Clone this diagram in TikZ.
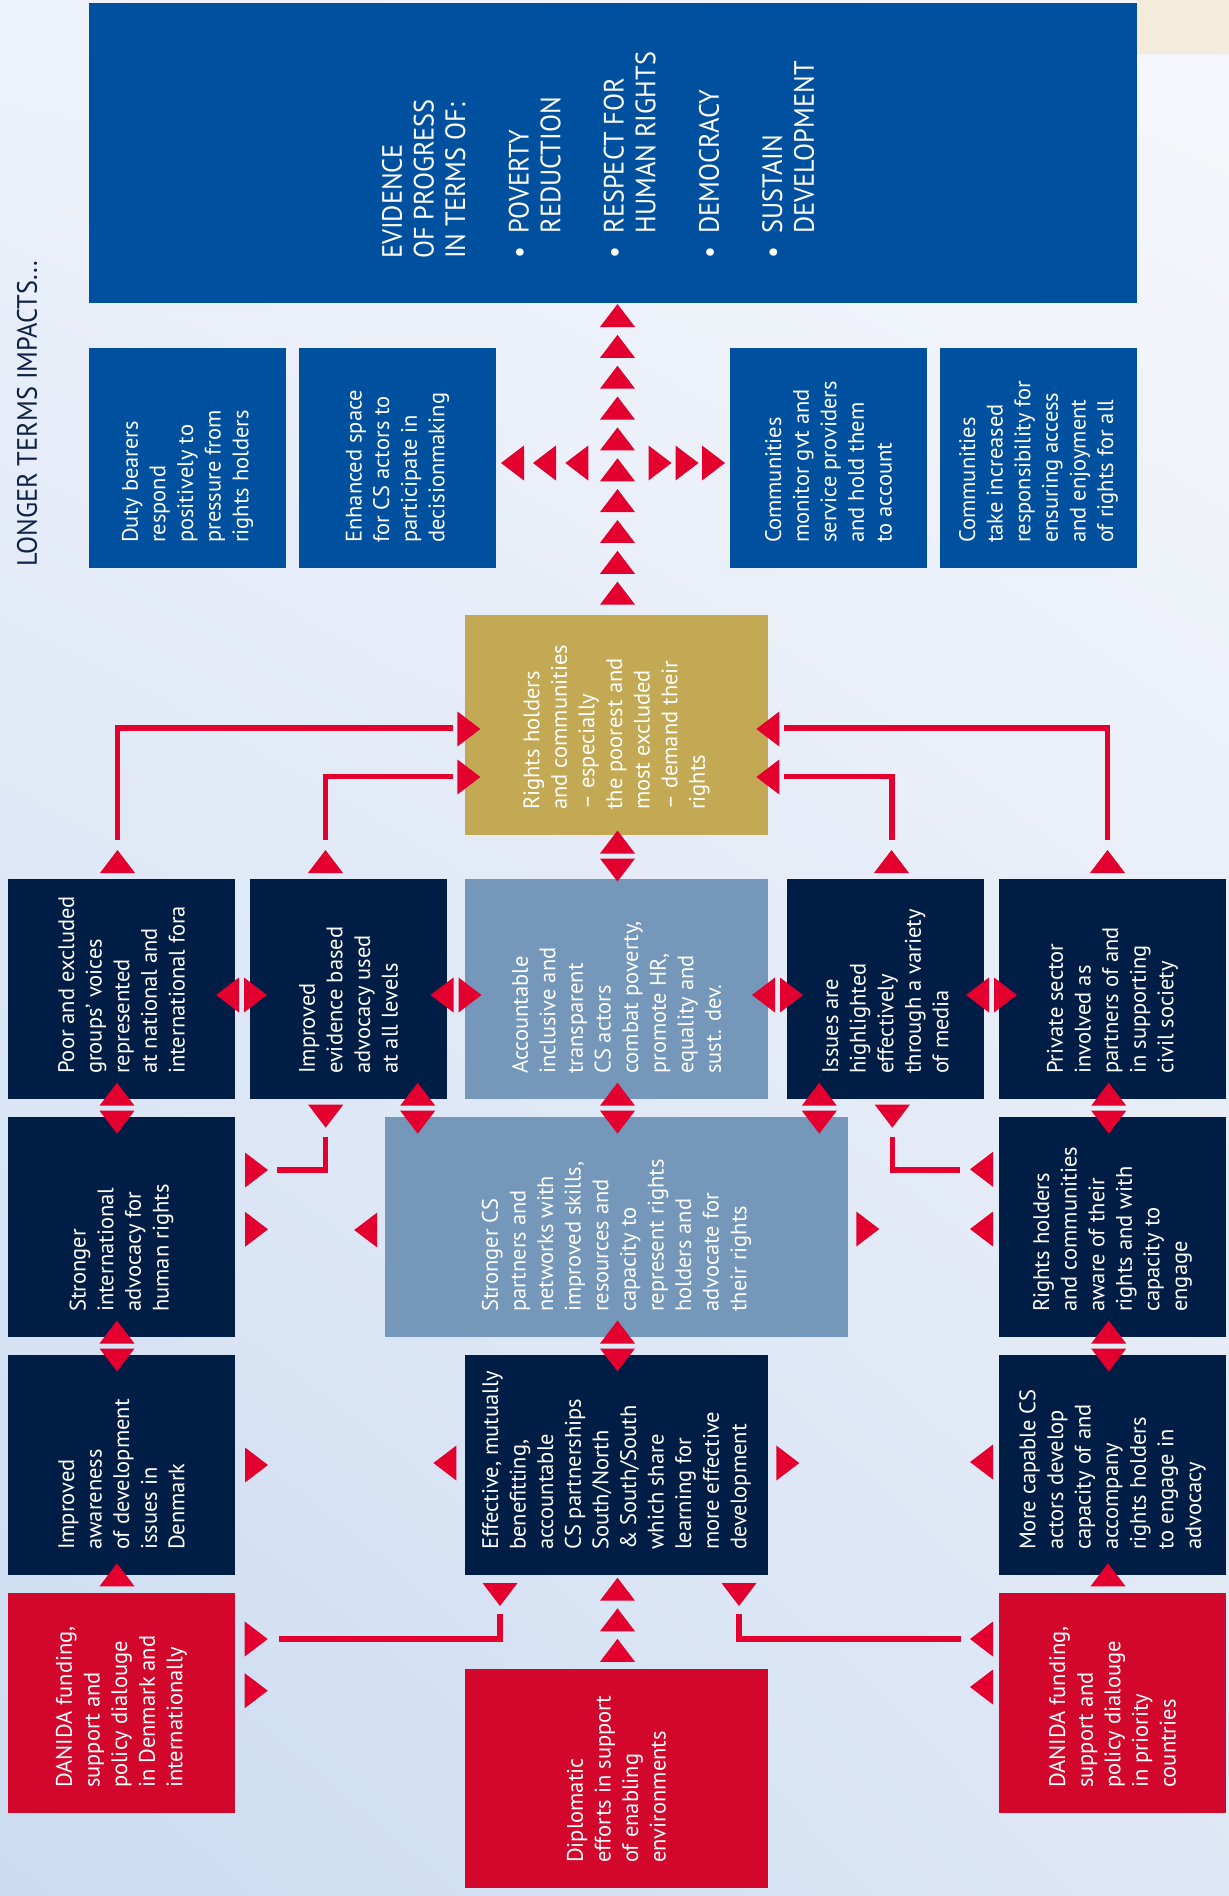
\documentclass[tikz,border=0pt]{standalone}
\usepackage{fontspec}
\usetikzlibrary{shadings}
\setmainfont{PT Sans}
\newfontfamily\capsfont[FakeStretch=0.94]{PT Sans}
\definecolor{tblue}{HTML}{0050A0}
\definecolor{navy}{HTML}{001E45}
\definecolor{steel}{HTML}{7597BA}
\definecolor{gold}{HTML}{C3A953}
\definecolor{rbox}{HTML}{D3072B}
\definecolor{rtri}{HTML}{E4002E}
\definecolor{beige}{HTML}{F3ECDB}
\definecolor{titlec}{HTML}{0E2146}
\definecolor{bgul}{HTML}{EEF2FA}
\definecolor{bgur}{HTML}{F6F7FB}
\definecolor{bgll}{HTML}{CBDBF1}
\definecolor{bglr}{HTML}{DEE7F5}
\newcommand\bx[7]{%
  \node[boxs, fill=#6, minimum width={(#4-#2)*1pt}, minimum height={(#5-#3)*1pt}] (#1) at ({(#2+#4)/2},{(#3+#5)/2}) {};
  \node[btext] (#1t) at ([yshift=25pt]#1.south) {#7};}
\newcommand\triU[2]{\fill[tri] (#1,#2) -- ++(-17.5,23) -- ++(35,0) -- cycle;}
\newcommand\triD[2]{\fill[tri] (#1,#2) -- ++(-17.5,-23) -- ++(35,0) -- cycle;}
\newcommand\triL[2]{\fill[tri] (#1,#2) -- ++(23,-17.5) -- ++(0,35) -- cycle;}
\newcommand\triR[2]{\fill[tri] (#1,#2) -- ++(-23,-17.5) -- ++(0,35) -- cycle;}
\newcommand\dblV[2]{\triU{#1}{#2-25.5}\triD{#1}{#2+25.5}}
\newcommand\dblH[2]{\triL{#1-25.5}{#2}\triR{#1+25.5}{#2}}
\newcommand\tbul{\makebox[25.3pt][l]{•}}
\newcommand\tind{\hspace*{25.3pt}}
\begin{document}
\begin{tikzpicture}[x=1pt,y=-1pt,
  boxs/.style={rectangle, draw=none, inner sep=0pt, outer sep=0pt},
  btext/.style={rotate=90, anchor=west, align=left, inner sep=0pt, text=white,
    font=\fontsize{22.5}{27.6}\selectfont},
  toptext/.style={rotate=90, anchor=north west, align=left, inner sep=0pt, text=white,
    font=\capsfont\fontsize{28}{31.7}\selectfont},
  titletext/.style={rotate=90, anchor=north west, inner sep=0pt, text=titlec,
    font=\capsfont\fontsize{28}{31.7}\selectfont},
  tri/.style={fill=rtri},
  conn/.style={draw=rtri, line width=5.5pt, line join=miter}]
\useasboundingbox (0,0) rectangle (1229,1896);
\shade[upper left=bgul, upper right=bgur, lower left=bgll, lower right=bglr]
  (0,0) rectangle (1229,1896);
\fill[beige] (1137,0) rectangle (1229,54);
% title
\node[titletext] (title) at (16.7,566.7) {LONGER TERMS IMPACTS...};
% top box
\node[boxs, fill=tblue, minimum width=1048pt, minimum height=300pt] (top) at (613,153) {};
\node[toptext] (topt) at (381.7,259) {EVIDENCE\\OF PROGRESS\\IN TERMS OF:\\[31.7pt]\tbul POVERTY\\\tind REDUCTION\\[31.7pt]\tbul RESPECT FOR\\\tind HUMAN RIGHTS\\[31.7pt]\tbul DEMOCRACY\\[31.7pt]\tbul SUSTAIN\\\tind DEVELOPMENT};
% row 2
\bx{r2a}{89}{348}{286}{568}{tblue}{Duty bearers\\respond\\positively to\\pressure from\\rights holders}
\bx{r2b}{299}{348}{496}{568}{tblue}{Enhanced space\\for CS actors to\\participate in\\decisionmaking}
\bx{r2c}{730}{348}{927}{568}{tblue}{Communities\\monitor gvt and\\service providers\\and hold them\\to account}
\bx{r2d}{940}{348}{1137}{568}{tblue}{Communities\\take increased\\responsibility for\\ensuring access\\and enjoyment\\of rights for all}
% gold
\bx{gold}{465}{615}{768}{835}{gold}{Rights holders\\and communities\\– especially\\the poorest and\\most excluded\\– demand their\\rights}
% row 3
\bx{r3a}{8}{879}{235}{1099}{navy}{Poor and excluded\\groups’ voices\\represented\\at national and\\international fora}
\bx{r3b}{250}{879}{447}{1099}{navy}{Improved\\evidence based\\advocacy used\\at all levels}
\bx{r3c}{465}{879}{768}{1099}{steel}{Accountable\\inclusive and\\transparent\\CS actors\\combat poverty,\\promote HR,\\equality and\\sust. dev.}
\bx{r3d}{787}{879}{984}{1099}{navy}{Issues are\\highlighted\\effectively\\through a variety\\of media}
\bx{r3e}{999}{879}{1226}{1099}{navy}{Private sector\\involved as\\partners of and\\in supporting\\civil society}
% row 4
\bx{r4a}{8}{1117}{235}{1337}{navy}{Stronger\\international\\advocacy for\\human rights}
\bx{r4b}{385}{1117}{848}{1337}{steel}{Stronger CS\\partners and\\networks with\\improved skills,\\resources and\\capacity to\\represent rights\\holders and\\advocate for\\their rights}
\bx{r4c}{999}{1117}{1226}{1337}{navy}{Rights holders\\and communities\\aware of their\\rights and with\\capacity to\\engage}
% row 5
\bx{r5a}{8}{1355}{235}{1575}{navy}{Improved\\awareness\\of development\\issues in\\Denmark}
\bx{r5b}{465}{1355}{768}{1575}{navy}{Effective, mutually\\benefitting,\\accountable\\CS partnerships\\South/North\\\& South/South\\which share\\learning for\\more effective\\development}
\bx{r5c}{999}{1355}{1226}{1575}{navy}{More capable CS\\actors develop\\capacity of and\\accompany\\rights holders\\to engage in\\advocacy}
% row 6
\bx{r6a}{8}{1593}{235}{1813}{rbox}{DANIDA funding,\\support and\\policy dialouge\\in Denmark and\\internationally}
\bx{r6b}{465}{1669}{768}{1888}{rbox}{Diplomatic\\efforts in support\\of enabling\\environments}
\bx{r6c}{999}{1593}{1226}{1813}{rbox}{DANIDA funding,\\support and\\policy dialouge\\in priority\\countries}
% central column of arrows to the top box
\foreach \i in {0,...,9} {\triU{617.5}{304+\i*30.85}}
\triL{501}{463}\triL{533}{463}\triL{565.3}{463}
\triR{671.5}{463}\triR{698.5}{463}\triR{725}{463}
% connectors to gold box
\coordinate (g1s) at (117.5,840); \coordinate (g1e) at (453,728);
\coordinate (g2s) at (325.5,840); \coordinate (g2e) at (453,776.7);
\coordinate (g3s) at (891.8,840); \coordinate (g3e) at (783.7,776.7);
\coordinate (g4s) at (1107.4,840); \coordinate (g4e) at (783.7,728);
\draw[conn] (g1s) |- (g1e);
\draw[conn] (g2s) |- (g2e);
\draw[conn] (g3s) |- (g3e);
\draw[conn] (g4s) |- (g4e);
\triR{480.4}{729}\triR{480.4}{777}
\triL{756.3}{777}\triL{756.3}{729}
\triU{117.5}{850}\triU{325.5}{850}\triU{891.5}{850}\triU{1107.5}{850}
\dblV{617.5}{856}
% row 3 horizontal pairs
\dblH{241.5}{995}\dblH{456}{995}\dblH{777.5}{995}\dblH{991.5}{995}
% row 3 / row 4
\dblV{117}{1108.2}\dblV{417.7}{1108.2}\dblV{617.5}{1108.2}\dblV{819.3}{1108.2}\dblV{1108.7}{1108.2}
\triD{325.7}{1127.7}\triD{892.3}{1127.7}
\coordinate (l1s) at (325.5,1136.7); \coordinate (l1e) at (276.6,1170);
\coordinate (l2s) at (892.3,1136.7); \coordinate (l2e) at (960,1170);
\draw[conn] (l1s) |- (l1e);
\draw[conn] (l2s) |- (l2e);
\triR{268}{1170}\triR{268}{1229.3}
\triL{354.2}{1230}\triR{879.3}{1229}
\triL{970}{1169.3}\triL{970}{1229}
% row 4 / row 5
\dblV{117}{1346}\dblV{617.5}{1346}\dblV{1108.7}{1346}
\triR{268}{1465}\triL{433.4}{1463}\triR{799.3}{1463}\triL{970}{1462}
% row 5 / row 6
\triU{117}{1563.3}\triU{1108}{1563.3}
\triD{500}{1606}\triD{739}{1606}
\coordinate (b1s) at (500,1614.3); \coordinate (b1e) at (278.7,1639);
\coordinate (b2s) at (739,1614.3); \coordinate (b2e) at (960.8,1639);
\draw[conn] (b1s) |- (b1e);
\draw[conn] (b2s) |- (b2e);
\triR{267.7}{1639}\triR{267.7}{1690.7}
\triL{970}{1639}\triL{970}{1687}
\triU{617.5}{1577.7}\triU{617.5}{1608.3}\triU{617.5}{1638.8}
\end{tikzpicture}
\end{document}
